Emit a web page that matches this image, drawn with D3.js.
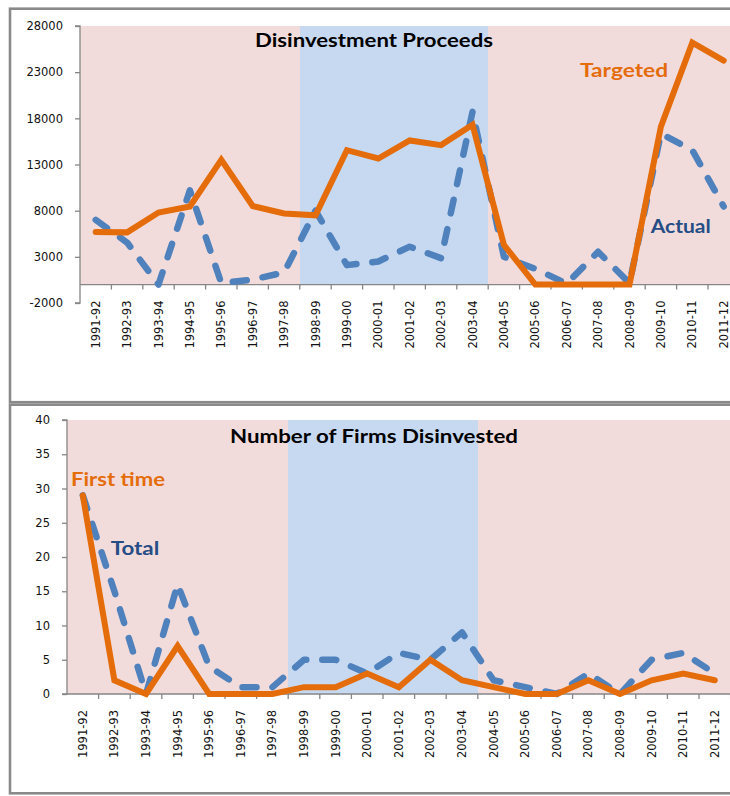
<!DOCTYPE html>
<html><head><meta charset="utf-8">
<script src="https://cdn.jsdelivr.net/npm/d3@7"></script>
<style>body{margin:0;background:#fff;} svg{display:block;}</style>
</head><body>
<svg id="c" width="730" height="796"></svg>
<script>
// ---------- data ----------
const years = ["1991-92","1992-93","1993-94","1994-95","1995-96","1996-97","1997-98","1998-99","1999-00","2000-01","2001-02","2002-03","2003-04","2004-05","2005-06","2006-07","2007-08","2008-09","2009-10","2010-11","2011-12"];
const targeted = [5700,5650,7800,8450,13500,8500,7700,7500,14550,13650,15600,15100,17300,4300,0,0,0,0,17100,26200,24250];
const actual   = [7000,4550,0,10200,150,550,1300,8000,2100,2500,4100,2850,18700,3000,1700,100,3550,150,16350,14550,8450];
const firstTime = [29,2,0,7,0,0,0,1,1,3,1,5,2,1,0,0,2,0,2,3,2];
const totalFirms = [29,15,0,16,4,1,1,5,5,3,6,5,9,2,1,0,3,0,5,6,3];
const proceedsTicks = [-2000,3000,8000,13000,18000,23000,28000];
const firmsTicks = [0,5,10,15,20,25,30,35,40];
const bandYears = ["1998-99","1999-00","2000-01","2001-02","2002-03","2003-04"];

// ---------- styles ----------
const PINK = "#f2dcdb", BLUEBG = "#c6d9f1", ORANGE = "#e46c0a", BLUE = "#4f81bd", NAVY = "#264d86", GRID = "#868686";
const svg = d3.select("#c");
svg.append("rect").attr("width",730).attr("height",796).attr("fill","#fff");

// frames
svg.append("rect").attr("x",10).attr("y",8.7).attr("width",760).attr("height",393.5)
  .attr("fill","none").attr("stroke","#8a8a8a").attr("stroke-width",2.6);
svg.append("rect").attr("x",10).attr("y",404.7).attr("width",760).attr("height",388.6)
  .attr("fill","none").attr("stroke","#8a8a8a").attr("stroke-width",2.6);

function panel(opt){
  const g = svg.append("g");
  const x = d3.scaleBand().domain(years).range([opt.left, opt.left + years.length*opt.step]).padding(0);
  const y = d3.scaleLinear().domain(opt.domain).range([opt.bottom, opt.top]);
  const bw = x.bandwidth();
  const cx = d => x(d) + bw/2;

  // background columns
  g.append("g").attr("shape-rendering","crispEdges").selectAll("rect").data(years).join("rect")
    .attr("x", d => x(d)).attr("width", bw + 0.8)
    .attr("y", y(opt.domain[1])).attr("height", y(0) - y(opt.domain[1]))
    .attr("fill", d => bandYears.includes(d) ? BLUEBG : PINK);

  // y axis
  const ya = d3.axisLeft(y).tickValues(opt.ticks).tickSize(5).tickPadding(12).tickFormat(d => String(d));
  const yg = g.append("g").attr("transform",`translate(${opt.left},0)`).call(ya);
  yg.select(".domain").attr("stroke",GRID).attr("stroke-width",1.3).attr("d",`M-5,${y(opt.domain[1])}H0V${y(opt.domain[0])}H-5`);
  yg.selectAll(".tick line").attr("stroke",GRID).attr("stroke-width",1.3);
  yg.selectAll("text").attr("font-family","DejaVu Sans").attr("font-size",11.5).attr("fill","#111");

  // x axis at zero
  const y0 = y(0);
  g.append("line").attr("x1",opt.left).attr("x2",740).attr("y1",y0).attr("y2",y0)
    .attr("stroke",GRID).attr("stroke-width",1.3);
  g.append("g").selectAll("line").data(years).join("line")
    .attr("x1", d => x(d) + bw).attr("x2", d => x(d) + bw)
    .attr("y1", y0).attr("y2", y0 + 5).attr("stroke",GRID).attr("stroke-width",1.3);
  g.append("g").selectAll("text").data(years).join("text")
    .attr("transform", d => `translate(${cx(d)},${y0 + 16}) rotate(-90)`)
    .attr("text-anchor","end").attr("dy","0.35em")
    .attr("font-family","DejaVu Sans").attr("font-size",11.5).attr("fill","#111")
    .text(d => d);

  // series
  const line = d3.line().x((d,i) => cx(years[i])).y(d => y(d));
  g.append("path").datum(opt.dashed).attr("d",line).attr("fill","none")
    .attr("stroke",BLUE).attr("stroke-width",6.5).attr("stroke-dasharray","14,16")
    .attr("stroke-linecap","round").attr("stroke-linejoin","round");
  g.append("path").datum(opt.solid).attr("d",line).attr("fill","none")
    .attr("stroke",ORANGE).attr("stroke-width",6)
    .attr("stroke-linecap","round").attr("stroke-linejoin","miter");

  // texts
  const lab = (t, xx, yy, w, size, color) => g.append("text").attr("x",xx).attr("y",yy)
    .attr("font-family","Lato").attr("font-weight","bold").attr("font-size",size)
    .attr("fill",color).attr("textLength",w).attr("lengthAdjust","spacingAndGlyphs").text(t);
  lab(opt.title, opt.titleX, opt.titleY, opt.titleW, 18.6, "#000");
  opt.labels.forEach(l => lab(l.t, l.x, l.y, l.w, 19, l.c));
}

panel({
  left: 80, step: 31.4, top: 26, bottom: 303, domain: [-2000, 28000], ticks: proceedsTicks,
  solid: targeted, dashed: actual,
  title: "Disinvestment Proceeds", titleX: 255, titleY: 46.7, titleW: 238,
  labels: [
    {t:"Targeted", x:580, y:76.7, w:88, c:ORANGE},
    {t:"Actual", x:650.7, y:233.3, w:60, c:NAVY}
  ]
});

panel({
  left: 67, step: 31.6, top: 420, bottom: 694, domain: [0, 40], ticks: firmsTicks,
  solid: firstTime, dashed: totalFirms,
  title: "Number of Firms Disinvested", titleX: 230, titleY: 442.7, titleW: 288,
  labels: [
    {t:"First time", x:71, y:486, w:94, c:ORANGE},
    {t:"Total", x:110.7, y:555, w:48.6, c:NAVY}
  ]
});
</script>
</body></html>
